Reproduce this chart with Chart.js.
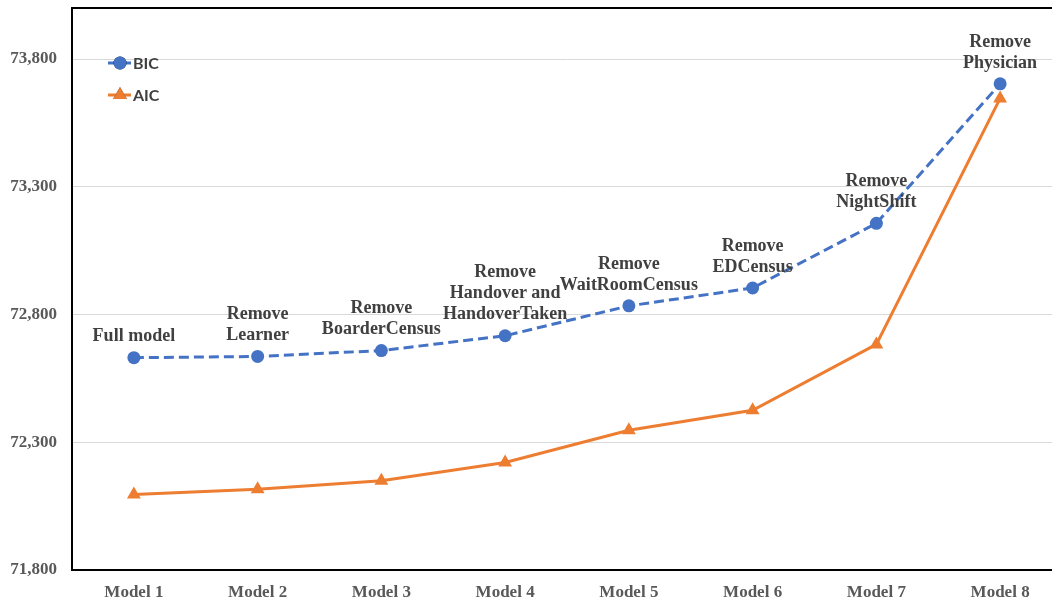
<!DOCTYPE html>
<html>
<head>
<meta charset="utf-8">
<script src="https://cdn.jsdelivr.net/npm/chart.js@4"></script>
<style>
html,body{margin:0;padding:0;overflow:hidden;background:#fff;width:1052px;height:601px;}
canvas{display:block;}
</style>
</head>
<body>
<canvas id="c" width="1070" height="601"></canvas>
<script>
const categories = ["Model 1","Model 2","Model 3","Model 4","Model 5","Model 6","Model 7","Model 8"];
const bicValues = [72631, 72636, 72659, 72717, 72834, 72904, 73157, 73703];
const aicValues = [72096, 72116, 72149, 72221, 72347, 72425, 72683, 73646];
const bicNotes = [
  ["Full model"],
  ["Remove","Learner"],
  ["Remove","BoarderCensus"],
  ["Remove","Handover and","HandoverTaken"],
  ["Remove","WaitRoomCensus"],
  ["Remove","EDCensus"],
  ["Remove","NightShift"],
  ["Remove","Physician"]
];
const yTicks = [71800, 72300, 72800, 73300, 73800];

const BLUE = "#4472C4", ORANGE = "#ED7D31";
const serif = "'Liberation Serif','Times New Roman',serif";

const framePlugin = {
  id: "frame",
  afterDraw(chart) {
    const {ctx, chartArea: a} = chart;
    ctx.save();
    ctx.strokeStyle = "#000";
    ctx.lineWidth = 2;
    ctx.beginPath();
    ctx.moveTo(a.left - 1, a.top);
    ctx.lineTo(a.right + 2, a.top);
    ctx.stroke();
    ctx.restore();
  }
};

const notesPlugin = {
  id: "notes",
  afterDatasetsDraw(chart) {
    const ctx = chart.ctx;
    const meta = chart.getDatasetMeta(0);
    ctx.save();
    ctx.font = "bold 18px " + serif;
    ctx.fillStyle = "#404040";
    ctx.textAlign = "center";
    ctx.textBaseline = "middle";
    meta.data.forEach((pt, i) => {
      const lines = bicNotes[i];
      const n = lines.length;
      lines.forEach((ln, j) => {
        ctx.fillText(ln, pt.x, pt.y - 21 - (n - 1 - j) * 21);
      });
    });
    ctx.restore();
  }
};

const legendPlugin = {
  id: "inlegend",
  afterDraw(chart) {
    const ctx = chart.ctx;
    const items = [
      {ds: chart.data.datasets[0], y: 63},
      {ds: chart.data.datasets[1], y: 95}
    ];
    ctx.save();
    items.forEach(it => {
      const ds = it.ds;
      ctx.strokeStyle = ds.borderColor;
      ctx.lineWidth = 3;
      ctx.setLineDash([]);
      ctx.beginPath();
      ctx.moveTo(108, it.y);
      ctx.lineTo(131, it.y);
      ctx.stroke();
      Chart.helpers.drawPoint(ctx, {
        pointStyle: ds.pointStyle,
        radius: ds.pointRadius,
        borderWidth: 0,
        rotation: 0
      }, 120, it.y);
      ctx.fillStyle = ds.backgroundColor;
      ctx.fill();
      ctx.font = "bold 16px Lato, 'Open Sans', sans-serif";
      ctx.fillStyle = "#404040";
      ctx.textAlign = "left";
      ctx.textBaseline = "middle";
      ctx.fillText(ds.label, 133, it.y + 1);
    });
    ctx.restore();
  }
};

new Chart(document.getElementById("c"), {
  type: "line",
  data: {
    labels: categories,
    datasets: [
      {
        label: "BIC",
        data: bicValues,
        borderColor: BLUE,
        backgroundColor: BLUE,
        borderWidth: 3,
        borderDash: [10, 5],
        pointStyle: "circle",
        pointRadius: 6.5,
        pointBorderWidth: 0,
        pointBackgroundColor: BLUE,
        tension: 0
      },
      {
        label: "AIC",
        data: aicValues,
        borderColor: ORANGE,
        backgroundColor: ORANGE,
        borderWidth: 3,
        pointStyle: "triangle",
        pointRadius: 8,
        pointBorderWidth: 0,
        pointBackgroundColor: ORANGE,
        tension: 0
      }
    ]
  },
  options: {
    responsive: false,
    animation: false,
    layout: {padding: {top: 8, right: 1, left: 0, bottom: 0}},
    plugins: {legend: {display: false}, tooltip: {enabled: false}},
    scales: {
      x: {
        offset: true,
        grid: {display: false, drawTicks: false},
        border: {display: true, color: "#000", width: 2},
        ticks: {
          padding: 12,
          color: "#595959",
          font: {family: serif, size: 17, weight: "bold"}
        },
        afterFit(s) { s.height = 31; s.paddingLeft = 0; s.paddingRight = 0; }
      },
      y: {
        min: 71800,
        max: 74000,
        afterBuildTicks(s) { s.ticks = yTicks.map(v => ({value: v})); },
        grid: {color: "#d9d9d9", lineWidth: 1, drawTicks: false},
        border: {display: true, color: "#000", width: 2},
        ticks: {
          padding: 15,
          color: "#595959",
          font: {family: serif, size: 17, weight: "bold"},
          callback: v => v.toLocaleString("en-US")
        },
        afterFit(s) { s.width = 72; s.paddingTop = 0; s.paddingBottom = 0; }
      }
    }
  },
  plugins: [framePlugin, notesPlugin, legendPlugin]
});
</script>
</body>
</html>
